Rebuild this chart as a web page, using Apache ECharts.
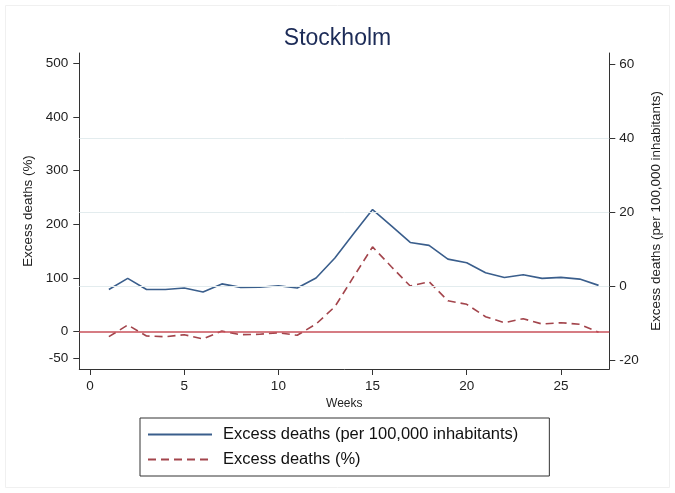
<!DOCTYPE html>
<html>
<head>
<meta charset="utf-8">
<script src="https://cdn.jsdelivr.net/npm/echarts@6/dist/echarts.min.js"></script>
<style>
html,body{margin:0;padding:0;background:#fff;}
#c{width:675px;height:493px;}
</style>
</head>
<body>
<div id="c"></div>
<script>
var titleText = 'Stockholm';
var weeks = [1,2,3,4,5,6,7,8,9,10,11,12,13,14,15,16,17,18,19,20,21,22,23,24,25,26,27];
var per100k = [-0.9,2.1,-0.9,-0.9,-0.5,-1.6,0.6,-0.35,-0.3,0.1,-0.5,2.2,7.6,14.2,20.7,16.3,11.8,11.0,7.3,6.3,3.6,2.35,3.05,2.1,2.35,1.9,0.2];
var pct = [-9.3,12.5,-8.0,-9.3,-5.6,-13.6,1.3,-5.6,-4.8,-1.9,-6.7,14.3,46.6,102.5,158,121,85.1,93.1,57.7,51,27.9,16.8,24.2,14.3,16.8,13.8,-1];
var xTicks = [0,5,10,15,20,25];
var leftTicks = [-50,0,100,200,300,400,500];
var rightTicks = [-20,0,20,40,60];
var rightGrid = [0,20,40];
var nameA = 'Excess deaths (per 100,000 inhabitants)';
var nameB = 'Excess deaths (%)';

function pairs(xs, ys){ return xs.map(function(x,i){ return [x, ys[i]]; }); }

var font = 'Liberation Sans, Arial, Helvetica, sans-serif';
var chart = echarts.init(document.getElementById('c'), null, {renderer:'canvas'});
chart.setOption({
  animation:false,
  backgroundColor:'#fff',
  textStyle:{fontFamily:font},
  graphic:[{type:'rect', shape:{x:5.5,y:5.5,width:664,height:482}, style:{fill:'none', stroke:'#f0f0f0', lineWidth:1}, silent:true}],
  title:{text:titleText, left:'center', top:22, textStyle:{fontFamily:font, fontSize:23, fontWeight:'normal', color:'#1c2b57'}},
  grid:{left:79.3, right:65.7, top:53, bottom:124, containLabel:false, outerBoundsMode:'none'},
  legend:{
    data:[nameA, nameB], orient:'vertical', left:140, top:418,
    borderColor:'#333', borderWidth:1, padding:[8,31,8,7],
    itemWidth:64, itemHeight:16, itemGap:8,
    itemStyle:{color:'rgba(0,0,0,0)', borderWidth:0, opacity:0},
    textStyle:{fontFamily:font, fontSize:16.5, color:'#111', padding:[0,0,0,6]}
  },
  xAxis:{
    type:'value', min:-0.57, max:27.57,
    name:'Weeks', nameLocation:'middle', nameGap:27,
    nameTextStyle:{fontFamily:font, fontSize:12, color:'#222'},
    axisLine:{show:true, onZero:false, lineStyle:{color:'#333', width:1}},
    axisTick:{show:true, length:6, customValues:xTicks, lineStyle:{color:'#333'}},
    axisLabel:{customValues:xTicks, fontSize:13.5, margin:10, color:'#222', fontFamily:font},
    splitLine:{show:false}
  },
  yAxis:[
    {
      type:'value', position:'left', min:-69.5, max:519.2,
      name:nameB, nameLocation:'middle', nameGap:41,
      nameTextStyle:{fontFamily:font, fontSize:13.4, color:'#222'},
      axisLine:{show:true, onZero:false, lineStyle:{color:'#333', width:1}},
      axisTick:{show:true, length:6, customValues:leftTicks, lineStyle:{color:'#333'}},
      axisLabel:{customValues:leftTicks, fontSize:13.5, margin:11, color:'#222', fontFamily:font},
      splitLine:{show:false}
    },
    {
      type:'value', position:'right', min:-22.4, max:63.0,
      name:nameA, nameLocation:'middle', nameGap:37.4, nameRotate:90,
      nameTextStyle:{fontFamily:font, fontSize:13.4, color:'#222'},
      axisLine:{show:true, onZero:false, lineStyle:{color:'#333', width:1}},
      axisTick:{show:true, length:6, customValues:rightTicks, lineStyle:{color:'#333'}},
      axisLabel:{customValues:rightTicks, fontSize:13.5, margin:10, color:'#222', fontFamily:font},
      splitLine:{show:false}
    }
  ],
  series:[
    {
      name:nameA, type:'line', yAxisIndex:1, data:pairs(weeks, per100k),
      symbol:'none', color:'#3a5e8c',
      lineStyle:{color:'#3a5e8c', width:1.6},
      markLine:{silent:true, symbol:['none','none'], label:{show:false},
        lineStyle:{color:'#e3ecee', width:1, type:'solid'},
        data:rightGrid.map(function(v){return {yAxis:v};})}
    },
    {
      name:nameB, type:'line', yAxisIndex:0, data:pairs(weeks, pct),
      symbol:'none', color:'#a3454c',
      lineStyle:{color:'#a3454c', width:1.6, type:[8,5]},
      markLine:{silent:true, symbol:['none','none'], label:{show:false},
        lineStyle:{color:'#c8505a', width:1.5, type:'solid'},
        data:[{yAxis:0}]}
    }
  ]
});
</script>
</body>
</html>
